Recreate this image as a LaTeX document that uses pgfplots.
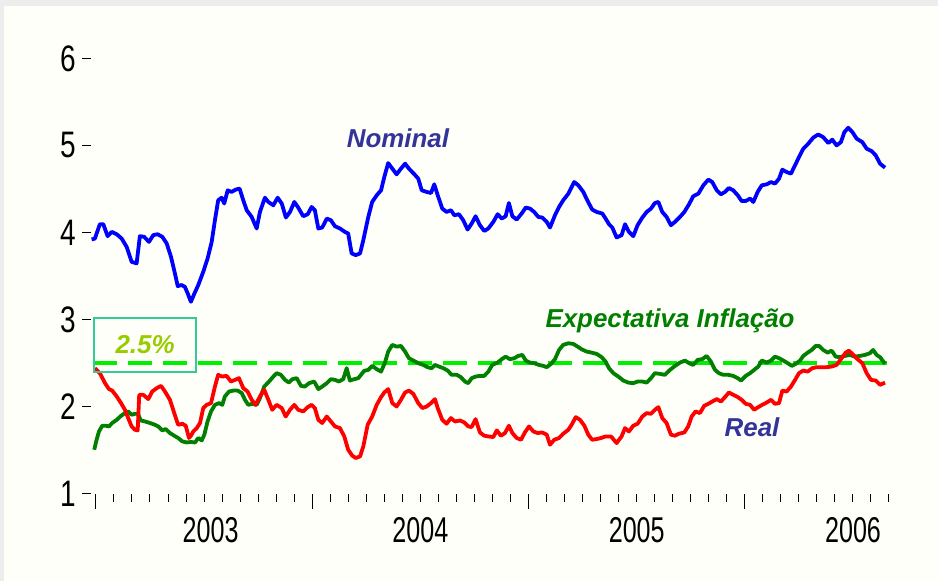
\documentclass[border=0pt]{standalone}
\usepackage{pgfplots}
\pgfplotsset{compat=1.18}
\usepackage{fontspec}
\setmainfont{Liberation Sans}
\newfontfamily\condfont[FakeStretch=0.7]{Liberation Sans}
\newfontfamily\ycondfont[FakeStretch=0.76]{Liberation Sans}
\definecolor{bggrey}{HTML}{EDEDED}
\definecolor{bgcream}{HTML}{FFFFFA}
\definecolor{nomblue}{HTML}{0000FF}
\definecolor{realred}{HTML}{FF0000}
\definecolor{expgreen}{HTML}{007F00}
\definecolor{dashgreen}{HTML}{00F000}
\definecolor{lblblue}{HTML}{333399}
\definecolor{lblgreen}{HTML}{007F00}
\definecolor{pcttext}{HTML}{99CC00}
\definecolor{boxteal}{HTML}{33CC99}
\begin{document}
\begin{tikzpicture}
\useasboundingbox (0,0) rectangle (938bp,581bp);
\fill[bggrey] (0,0) rectangle (938bp,581bp);
\fill[bgcream] (4bp,0bp) rectangle (938bp,575bp);
\begin{axis}[
  at={(91.2bp,87.5bp)}, anchor=south west,
  scale only axis, width=798.6bp, height=435bp,
  xmin=2002.978, xmax=2006.67, ymin=1, ymax=6,
  clip=false,
  axis x line*=bottom, axis y line*=left,
  axis line style={draw=none},
  tick align=outside,
  ytick={1,2,3,4,5,6}, yticklabels={1,2,3,4,5,6},
  ytick style={black, line width=1bp, /pgfplots/major tick length=9bp},
  yticklabel style={font=\ycondfont\fontsize{37}{37}\selectfont, inner sep=0pt, xshift=-11bp},
  xtick={2003,2004,2005,2006}, xticklabels={},
  minor xtick={2003,2003.08333,...,2006.68},
  xtick style={black, line width=1bp, /pgfplots/major tick length=15bp, /pgfplots/minor tick length=8bp},
  extra x ticks={2003.53,2004.5,2005.5,2006.5},
  extra x tick labels={2003,2004,2005,2006},
  extra x tick style={xtick style={draw=none, /pgfplots/major tick length=0pt},
     xticklabel style={font=\condfont\fontsize{36}{36}\selectfont, yshift=-16bp}},
]
\addplot[draw=dashgreen, line width=4.5bp, dash pattern=on 24bp off 11bp] coordinates {(2002.985,2.5) (2006.655,2.5)};

\addplot[draw=expgreen, line width=3.8bp, line join=round] coordinates {
(2002.992,1.503)(2003.003,1.618)(2003.014,1.713)(2003.029,1.779)(2003.045,1.779)(2003.060,1.771)(2003.075,1.81)(2003.096,1.847)(2003.116,1.893)(2003.134,1.924)(2003.149,1.943)(2003.165,1.905)(2003.180,1.916)(2003.193,1.916)(2003.208,1.839)(2003.227,1.828)(2003.250,1.81)(2003.273,1.79)(2003.288,1.771)(2003.307,1.725)(2003.322,1.741)(2003.342,1.695)(2003.362,1.664)(2003.380,1.638)(2003.399,1.599)(2003.419,1.587)(2003.439,1.592)(2003.458,1.587)(2003.473,1.638)(2003.489,1.61)(2003.501,1.676)(2003.516,1.828)(2003.532,1.943)(2003.550,2.019)(2003.569,2.039)(2003.584,2.019)(2003.596,2.115)(2003.615,2.172)(2003.635,2.183)(2003.655,2.183)(2003.674,2.154)(2003.689,2.077)(2003.704,2.019)(2003.723,2.031)(2003.743,2.019)(2003.758,2.096)(2003.778,2.229)(2003.800,2.287)(2003.820,2.344)(2003.835,2.383)(2003.855,2.364)(2003.874,2.306)(2003.892,2.275)(2003.908,2.314)(2003.928,2.326)(2003.948,2.237)(2003.966,2.229)(2003.985,2.268)(2004.009,2.287)(2004.028,2.20)(2004.046,2.229)(2004.067,2.268)(2004.086,2.314)(2004.105,2.306)(2004.123,2.287)(2004.143,2.314)(2004.159,2.44)(2004.174,2.298)(2004.194,2.314)(2004.213,2.326)(2004.240,2.41)(2004.259,2.421)(2004.277,2.467)(2004.298,2.429)(2004.318,2.401)(2004.336,2.505)(2004.351,2.631)(2004.370,2.708)(2004.390,2.688)(2004.410,2.696)(2004.429,2.631)(2004.447,2.555)(2004.467,2.528)(2004.490,2.498)(2004.513,2.478)(2004.533,2.452)(2004.552,2.44)(2004.567,2.478)(2004.586,2.459)(2004.606,2.44)(2004.626,2.413)(2004.644,2.364)(2004.668,2.364)(2004.687,2.337)(2004.706,2.287)(2004.721,2.268)(2004.737,2.326)(2004.755,2.344)(2004.775,2.352)(2004.795,2.352)(2004.814,2.401)(2004.832,2.478)(2004.857,2.505)(2004.876,2.544)(2004.894,2.573)(2004.914,2.544)(2004.934,2.555)(2004.952,2.581)(2004.971,2.593)(2004.987,2.528)(2005.006,2.505)(2005.026,2.498)(2005.048,2.478)(2005.068,2.467)(2005.084,2.452)(2005.104,2.49)(2005.122,2.544)(2005.141,2.65)(2005.160,2.708)(2005.184,2.727)(2005.207,2.719)(2005.227,2.688)(2005.245,2.658)(2005.269,2.631)(2005.292,2.619)(2005.315,2.604)(2005.338,2.567)(2005.356,2.516)(2005.372,2.44)(2005.392,2.383)(2005.415,2.344)(2005.438,2.298)(2005.461,2.275)(2005.484,2.268)(2005.504,2.287)(2005.526,2.287)(2005.546,2.275)(2005.566,2.326)(2005.584,2.383)(2005.607,2.375)(2005.630,2.364)(2005.654,2.421)(2005.677,2.467)(2005.700,2.505)(2005.723,2.528)(2005.742,2.498)(2005.761,2.478)(2005.782,2.536)(2005.803,2.544)(2005.823,2.581)(2005.843,2.516)(2005.862,2.421)(2005.880,2.383)(2005.900,2.364)(2005.923,2.364)(2005.946,2.352)(2005.967,2.326)(2005.982,2.298)(2006.004,2.352)(2006.024,2.383)(2006.043,2.421)(2006.062,2.459)(2006.078,2.528)(2006.101,2.505)(2006.121,2.528)(2006.139,2.573)(2006.158,2.555)(2006.178,2.528)(2006.198,2.498)(2006.217,2.467)(2006.235,2.49)(2006.255,2.528)(2006.270,2.581)(2006.290,2.619)(2006.309,2.65)(2006.327,2.696)(2006.343,2.696)(2006.362,2.65)(2006.383,2.619)(2006.401,2.642)(2006.420,2.573)(2006.439,2.567)(2006.462,2.581)(2006.485,2.593)(2006.508,2.573)(2006.531,2.581)(2006.555,2.593)(2006.578,2.612)(2006.593,2.65)(2006.609,2.593)(2006.625,2.567)(2006.648,2.49)
};

\addplot[draw=realred, line width=3.8bp, line join=round] coordinates {
(2002.995,2.44)(2003.018,2.383)(2003.042,2.268)(2003.060,2.20)(2003.075,2.183)(2003.096,2.115)(2003.116,2.039)(2003.134,1.962)(2003.149,1.867)(2003.165,1.771)(2003.180,1.733)(2003.193,1.725)(2003.200,2.134)(2003.219,2.134)(2003.242,2.085)(2003.260,2.172)(2003.281,2.211)(2003.301,2.237)(2003.319,2.172)(2003.342,2.077)(2003.362,1.924)(2003.380,1.79)(2003.399,1.802)(2003.415,1.779)(2003.430,1.638)(2003.439,1.664)(2003.450,1.713)(2003.466,1.752)(2003.481,1.81)(2003.496,1.982)(2003.512,2.019)(2003.532,2.039)(2003.550,2.229)(2003.565,2.364)(2003.584,2.344)(2003.604,2.352)(2003.624,2.287)(2003.643,2.306)(2003.661,2.326)(2003.681,2.211)(2003.701,2.172)(2003.720,2.077)(2003.738,2.019)(2003.758,2.115)(2003.778,2.192)(2003.797,2.077)(2003.815,1.962)(2003.835,2.019)(2003.859,1.982)(2003.877,1.885)(2003.897,1.962)(2003.917,2.019)(2003.935,1.962)(2003.958,1.943)(2003.979,1.993)(2003.997,2.019)(2004.012,1.982)(2004.028,1.847)(2004.046,1.81)(2004.067,1.885)(2004.086,1.828)(2004.105,1.771)(2004.128,1.752)(2004.148,1.656)(2004.166,1.503)(2004.185,1.435)(2004.201,1.408)(2004.221,1.427)(2004.236,1.541)(2004.256,1.79)(2004.277,1.885)(2004.298,2.019)(2004.318,2.108)(2004.333,2.161)(2004.351,2.20)(2004.370,2.039)(2004.390,2.0)(2004.410,2.077)(2004.429,2.161)(2004.447,2.183)(2004.467,2.146)(2004.490,2.039)(2004.509,1.982)(2004.529,2.0)(2004.549,2.039)(2004.567,2.085)(2004.580,1.982)(2004.601,1.847)(2004.621,1.802)(2004.641,1.867)(2004.660,1.828)(2004.683,1.839)(2004.703,1.817)(2004.721,1.771)(2004.737,1.764)(2004.755,1.855)(2004.775,1.702)(2004.795,1.664)(2004.814,1.656)(2004.837,1.649)(2004.853,1.725)(2004.872,1.664)(2004.891,1.695)(2004.909,1.779)(2004.925,1.695)(2004.945,1.638)(2004.965,1.618)(2004.983,1.702)(2005.002,1.771)(2005.022,1.713)(2005.042,1.695)(2005.063,1.702)(2005.084,1.676)(2005.099,1.561)(2005.119,1.618)(2005.141,1.638)(2005.160,1.687)(2005.184,1.733)(2005.199,1.79)(2005.218,1.878)(2005.238,1.847)(2005.258,1.779)(2005.276,1.676)(2005.294,1.618)(2005.315,1.626)(2005.335,1.638)(2005.356,1.656)(2005.381,1.656)(2005.407,1.58)(2005.430,1.656)(2005.446,1.752)(2005.464,1.713)(2005.484,1.779)(2005.504,1.802)(2005.526,1.885)(2005.546,1.924)(2005.566,1.916)(2005.584,1.962)(2005.600,1.993)(2005.618,1.867)(2005.638,1.81)(2005.658,1.676)(2005.677,1.664)(2005.695,1.687)(2005.720,1.702)(2005.738,1.771)(2005.754,1.885)(2005.772,1.943)(2005.792,1.924)(2005.812,2.008)(2005.831,2.031)(2005.849,2.057)(2005.870,2.085)(2005.889,2.057)(2005.908,2.108)(2005.926,2.161)(2005.946,2.134)(2005.967,2.108)(2005.985,2.077)(2006.004,2.031)(2006.024,2.019)(2006.043,1.962)(2006.062,1.993)(2006.080,2.019)(2006.101,2.046)(2006.121,2.077)(2006.139,2.031)(2006.158,2.039)(2006.173,2.183)(2006.193,2.172)(2006.213,2.229)(2006.232,2.306)(2006.250,2.383)(2006.270,2.413)(2006.290,2.401)(2006.311,2.44)(2006.332,2.452)(2006.355,2.452)(2006.378,2.452)(2006.401,2.459)(2006.424,2.478)(2006.444,2.544)(2006.466,2.619)(2006.481,2.642)(2006.501,2.593)(2006.521,2.544)(2006.543,2.498)(2006.563,2.383)(2006.583,2.306)(2006.605,2.298)(2006.625,2.249)(2006.648,2.275)
};

\addplot[draw=nomblue, line width=3.8bp, line join=round] coordinates {
(2002.980,3.92)(2002.995,3.93)(2003.018,4.095)(2003.034,4.095)(2003.054,3.958)(2003.073,4.007)(2003.096,3.98)(2003.119,3.93)(2003.142,3.835)(2003.165,3.663)(2003.188,3.645)(2003.203,3.958)(2003.223,3.95)(2003.245,3.892)(2003.265,3.97)(2003.285,3.98)(2003.307,3.95)(2003.327,3.874)(2003.347,3.72)(2003.365,3.53)(2003.378,3.384)(2003.396,3.396)(2003.411,3.376)(2003.424,3.30)(2003.439,3.204)(2003.454,3.292)(2003.473,3.396)(2003.496,3.548)(2003.516,3.70)(2003.535,3.892)(2003.550,4.141)(2003.565,4.37)(2003.581,4.40)(2003.593,4.333)(2003.609,4.485)(2003.627,4.466)(2003.646,4.493)(2003.664,4.505)(2003.681,4.37)(2003.697,4.256)(2003.720,4.179)(2003.743,4.046)(2003.758,4.236)(2003.781,4.40)(2003.797,4.351)(2003.820,4.313)(2003.840,4.40)(2003.859,4.333)(2003.878,4.172)(2003.897,4.236)(2003.917,4.351)(2003.935,4.287)(2003.958,4.187)(2003.979,4.21)(2003.997,4.294)(2004.012,4.256)(2004.028,4.046)(2004.046,4.057)(2004.067,4.16)(2004.086,4.141)(2004.105,4.072)(2004.128,4.046)(2004.151,4.007)(2004.166,3.989)(2004.182,3.76)(2004.201,3.74)(2004.221,3.76)(2004.236,3.912)(2004.259,4.179)(2004.277,4.351)(2004.298,4.428)(2004.318,4.485)(2004.333,4.638)(2004.351,4.798)(2004.370,4.734)(2004.390,4.669)(2004.410,4.734)(2004.429,4.791)(2004.447,4.734)(2004.472,4.669)(2004.490,4.619)(2004.506,4.485)(2004.529,4.466)(2004.549,4.454)(2004.564,4.554)(2004.580,4.428)(2004.601,4.275)(2004.621,4.236)(2004.641,4.256)(2004.657,4.198)(2004.678,4.21)(2004.698,4.141)(2004.718,4.034)(2004.737,4.103)(2004.755,4.187)(2004.775,4.084)(2004.795,4.018)(2004.814,4.046)(2004.837,4.122)(2004.857,4.21)(2004.876,4.16)(2004.894,4.187)(2004.909,4.339)(2004.925,4.187)(2004.945,4.149)(2004.968,4.218)(2004.987,4.287)(2005.006,4.275)(2005.026,4.236)(2005.045,4.179)(2005.063,4.172)(2005.084,4.122)(2005.099,4.057)(2005.122,4.198)(2005.141,4.294)(2005.160,4.37)(2005.184,4.447)(2005.211,4.58)(2005.230,4.542)(2005.253,4.466)(2005.273,4.362)(2005.294,4.264)(2005.315,4.236)(2005.341,4.218)(2005.356,4.16)(2005.372,4.095)(2005.387,4.057)(2005.407,3.943)(2005.430,3.969)(2005.446,4.095)(2005.464,4.007)(2005.484,3.958)(2005.504,4.084)(2005.526,4.172)(2005.546,4.236)(2005.566,4.275)(2005.584,4.339)(2005.600,4.351)(2005.618,4.236)(2005.638,4.179)(2005.658,4.084)(2005.677,4.122)(2005.700,4.179)(2005.720,4.236)(2005.742,4.325)(2005.761,4.416)(2005.785,4.447)(2005.808,4.542)(2005.831,4.608)(2005.849,4.58)(2005.870,4.485)(2005.889,4.439)(2005.908,4.466)(2005.926,4.511)(2005.946,4.485)(2005.967,4.428)(2005.985,4.362)(2006.004,4.362)(2006.024,4.39)(2006.039,4.351)(2006.059,4.466)(2006.078,4.542)(2006.101,4.554)(2006.121,4.58)(2006.139,4.562)(2006.158,4.619)(2006.173,4.722)(2006.193,4.695)(2006.213,4.677)(2006.232,4.772)(2006.250,4.867)(2006.270,4.963)(2006.293,5.021)(2006.316,5.09)(2006.339,5.127)(2006.362,5.096)(2006.386,5.028)(2006.404,5.067)(2006.424,5.001)(2006.444,5.039)(2006.460,5.154)(2006.478,5.204)(2006.497,5.154)(2006.517,5.078)(2006.543,5.039)(2006.563,4.963)(2006.586,4.936)(2006.605,4.886)(2006.625,4.791)(2006.648,4.745)
};

\node[text=lblblue, font=\bfseries\itshape\fontsize{26}{26}\selectfont] at (axis cs:2004.396,5.081) {Nominal};
\node[text=lblblue, font=\bfseries\itshape\fontsize{26}{26}\selectfont] at (axis cs:2006.033,1.767) {Real};
\node[text=lblgreen, font=\bfseries\itshape\fontsize{26}{26}\selectfont] at (axis cs:2005.654,2.982) {Expectativa Inflação};
\node[draw=boxteal, line width=1.3bp, minimum width=102bp, minimum height=54bp, inner sep=0pt,
      text=pcttext, font=\bfseries\itshape\fontsize{26}{26}\selectfont] at (axis cs:2003.227,2.707) {2.5\%};
\end{axis}
\end{tikzpicture}
\end{document}
